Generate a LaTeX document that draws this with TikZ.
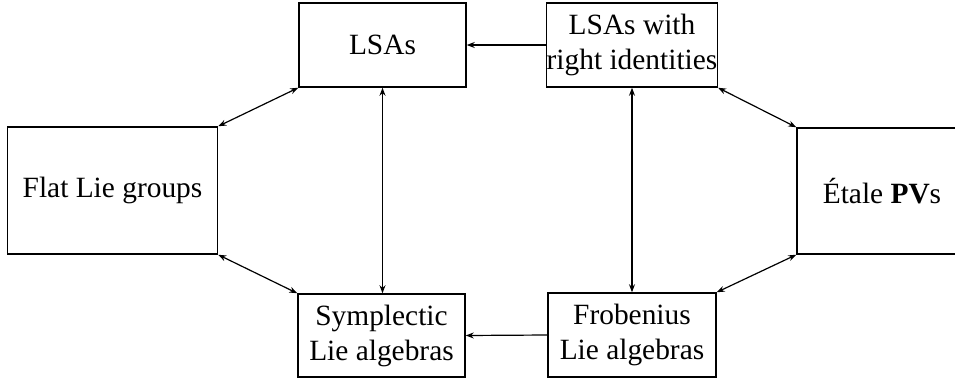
\documentclass[tikz,border=0pt]{standalone}
\usepackage{fontspec}
\setmainfont{Liberation Serif}
\usetikzlibrary{arrows.meta}
\tikzset{
  box/.style={draw, line width=0.75pt, inner sep=0pt, align=center, font=\fontsize{14.7}{17.5}\selectfont},
  conn/.style={line width=0.6pt, -{Stealth[length=4pt,width=3pt]}},
  bconn/.style={line width=0.6pt, {Stealth[length=4pt,width=3pt]}-{Stealth[length=4pt,width=3pt]}}
}
\begin{document}
\begin{tikzpicture}[x=0.5pt,y=-0.5pt]
\useasboundingbox (0,0) rectangle (955,381);
\clip (0,0) rectangle (955,381);
\node[box, minimum width=83.5pt, minimum height=42pt] (lsa) at (382.5,45) {LSAs};
\node[box, minimum width=84pt, minimum height=42pt] (lsari) at (632,45) {LSAs with\\right identities};
\node[box, minimum width=105pt, minimum height=63.5pt] (flat) at (112.5,190.5) {Flat Lie groups};
\node[box, minimum width=85pt, minimum height=63pt] (etale) at (882,191) {Étale \textbf{PV}s};
\node[box, minimum width=83.5pt, minimum height=41.5pt] (symp) at (381.5,335.5) {Symplectic\\Lie algebras};
\node[box, minimum width=84pt, minimum height=42pt] (frob) at (632,335) {Frobenius\\Lie algebras};
\draw[conn] (lsari.west) -- (lsa.east);
\draw[conn] (frob.west) -- (symp.east);
\draw[bconn] (lsa.south) -- (lsa.south |- symp.north);
\draw[bconn] (lsari.south) -- (lsari.south |- frob.north);
\draw[bconn] (flat.north east) -- (lsa.south west);
\draw[bconn] (flat.south east) -- (symp.north west);
\draw[bconn] (lsari.south east) -- (etale.north west);
\draw[bconn] (frob.north east) -- (etale.south west);
\end{tikzpicture}
\end{document}
